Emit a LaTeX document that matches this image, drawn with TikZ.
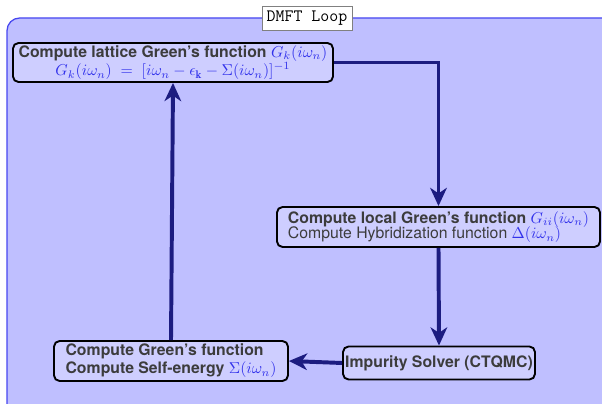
\documentclass[tikz,border=0pt]{standalone}
\usepackage{fontspec}
\setsansfont{TeX Gyre Heros}
\usetikzlibrary{arrows.meta}
\definecolor{framefill}{RGB}{191,191,255}
\definecolor{framedraw}{RGB}{70,70,240}
\definecolor{boxfill}{RGB}{206,206,255}
\definecolor{arrowc}{RGB}{28,28,128}
\definecolor{mathc}{RGB}{50,50,235}
\definecolor{txtc}{RGB}{60,60,60}
\newcommand{\mblue}[1]{\textcolor{mathc}{$#1$}}
\begin{document}
\begin{tikzpicture}[x=0.633pt,y=-0.633pt,
  stagebox/.style={draw=black, line width=1.2pt, rounded corners=3.5pt, fill=boxfill,
    text=txtc, inner sep=0pt},
  flow/.style={draw=arrowc, line width=2.5pt, -{Stealth[length=11.5pt,width=10.5pt,inset=3.5pt]}},
  titlebox/.style={draw=gray, fill=white, line width=0.5pt, font=\ttfamily\fontsize{11}{12}\selectfont,
    inner xsep=3pt, inner ysep=3pt, text=black}]
\useasboundingbox (0,0) rectangle (602,404);
\begin{scope}
\clip (0,0) rectangle (602,404);
\draw[draw=framedraw, line width=0.8pt, fill=framefill, rounded corners=8pt] (7,18) rectangle (680,470);
\end{scope}
\node[titlebox] (title) at (307,18.5) {DMFT Loop};

\node[stagebox, minimum width=202.6pt, minimum height=24.7pt, align=center,
  font=\sffamily\fontsize{10}{10}\selectfont] (lattice) at (173,62.5)
  {\textbf{Compute lattice Green's function}\ \mblue{G_k(i\omega_n)}\\
   \mblue{G_k(i\omega_n) \;=\; [i\omega_n - \epsilon_{\mathbf{k}} - \Sigma(i\omega_n)]^{-1}}};

\node[stagebox, minimum width=204.5pt, minimum height=25.3pt, align=left,
  font=\sffamily\fontsize{10}{10}\selectfont] (local) at (438.5,227)
  {\textbf{Compute local Green's function}\ \mblue{G_{ii}(i\omega_n)}\\
   Compute Hybridization function \mblue{\Delta(i\omega_n)}};

\node[stagebox, minimum width=121.5pt, minimum height=20.9pt,
  font=\sffamily\bfseries\fontsize{10}{11}\selectfont] (solver) at (439,363)
  {Impurity Solver (CTQMC)};

\node[stagebox, minimum width=148.1pt, minimum height=25.3pt, align=left,
  font=\sffamily\bfseries\fontsize{10}{11.4}\selectfont] (self) at (171,361)
  {Compute Green's function\\
   Compute Self-energy \mblue{\Sigma(i\omega_n)}};

\draw[flow] (lattice.east) -| (local.north);
\draw[flow] (local.south) -- (solver.north);
\draw[flow] (solver.west) -- (self.east);
\draw[flow] (self.north) -- (lattice.south);
\end{tikzpicture}
\end{document}
